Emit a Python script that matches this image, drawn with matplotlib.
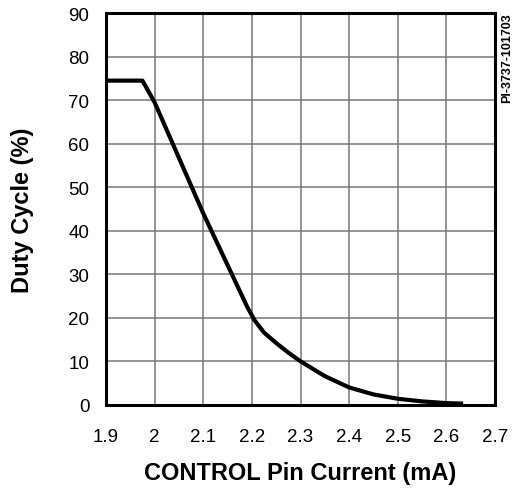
import matplotlib
matplotlib.use("Agg")
import matplotlib.pyplot as plt

# Curve
current = [1.90, 1.975, 2.00, 2.10, 2.19, 2.205, 2.225, 2.25,
           2.275, 2.30, 2.35, 2.40, 2.45, 2.50, 2.55, 2.60, 2.63]
duty = [74.5, 74.5, 69.5, 44, 22.6, 19.5, 16.6, 14.2,
        12, 10, 6.6, 4.0, 2.4, 1.4, 0.8, 0.4, 0.3]

x_ticks = [1.9, 2.0, 2.1, 2.2, 2.3, 2.4, 2.5, 2.6, 2.7]
x_labels = ["1.9", "2", "2.1", "2.2", "2.3", "2.4", "2.5", "2.6", "2.7"]
y_ticks = [0, 10, 20, 30, 40, 50, 60, 70, 80, 90]

plt.rcParams['font.family'] = ['Liberation Sans', 'DejaVu Sans']

fig = plt.figure(figsize=(5.12, 4.89), dpi=100)
ax = fig.add_axes([0.207, 0.170, 0.760, 0.801])

ax.plot(current, duty, color='black', lw=3, solid_joinstyle='round', zorder=3)

ax.set_xlim(1.9, 2.7)
ax.set_ylim(0, 90)
ax.set_xticks(x_ticks)
ax.set_xticklabels(x_labels)
ax.set_yticks(y_ticks)
ax.grid(True, color='#777777', lw=1.1)
ax.tick_params(length=0, labelsize=13.5, pad=12)
ax.tick_params(axis='x', pad=17)
for s in ax.spines.values():
    s.set_linewidth(2.2)

ax.set_xlabel("CONTROL Pin Current (mA)", fontsize=17, fontweight='bold', labelpad=11)
ax.set_ylabel("Duty Cycle (%)", fontsize=17, fontweight='bold', labelpad=25)

fig.text(0.990, 0.972, "PI-3737-101703", rotation=90, fontsize=9,
         fontweight='bold', ha='center', va='top')

fig.savefig("out.png", dpi=100)
